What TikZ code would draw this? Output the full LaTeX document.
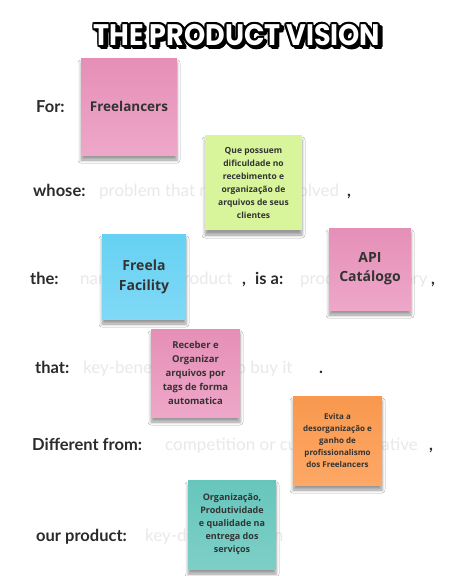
\documentclass[tikz,border=0pt]{standalone}
\usepackage{fontspec}
\setmainfont{Open Sans}
\newfontfamily\handfont{Lato}
\newfontfamily\titlefont{Poppins}
\usetikzlibrary{positioning,shadows.blur}

\definecolor{lbltext}{HTML}{2B2B2B}
\definecolor{hnttext}{HTML}{E9E9E9}
\definecolor{notetext}{HTML}{333333}
\definecolor{pinktop}{HTML}{E58FB7}
\definecolor{pinkbot}{HTML}{EEA7C9}
\definecolor{greennote}{HTML}{D8F59B}
\definecolor{bluetop}{HTML}{66D1F3}
\definecolor{bluebot}{HTML}{80D9F6}
\definecolor{orangetop}{HTML}{F9984E}
\definecolor{orangebot}{HTML}{FDA866}
\definecolor{tealtop}{HTML}{67C6BC}
\definecolor{tealbot}{HTML}{7DCFC6}

\begin{document}
\begin{tikzpicture}[x=1pt,y=-1pt,
  fieldname/.style={anchor=base west,inner sep=0pt,text=lbltext,
    font=\handfont\bfseries\fontsize{16.5}{20}\selectfont},
  hint/.style={anchor=base west,inner sep=0pt,text=hnttext,
    font=\handfont\fontsize{17}{20}\selectfont},
  titletxt/.style={font=\titlefont\bfseries\fontsize{27}{30}\selectfont,inner sep=0pt,yscale=1.1},
  note/.style={align=center,inner sep=2pt,text=notetext,
    blur shadow={shadow xshift=0pt,shadow yshift=-5pt,shadow opacity=40,shadow blur radius=3pt}},
  pink/.style={note,top color=pinktop,bottom color=pinkbot},
  green/.style={note,fill=greennote},
  blue/.style={note,top color=bluetop,bottom color=bluebot},
  orange/.style={note,top color=orangetop,bottom color=orangebot},
  teal/.style={note,top color=tealtop,bottom color=tealbot}]
  \useasboundingbox[fill=white] (0,0) rectangle (448,576);

  % title
  \foreach \a [count=\i] in {0,30,...,330}
    \node[titletxt,text=black] (shade\i) at ([shift={(\a:1.8)}] 239.5,37.5) {THE PRODUCT VISION};
  \foreach \a [count=\i] in {0,30,...,330}
    \node[titletxt,text=black] (rim\i) at ([shift={(\a:1.8)}] 237,35) {THE PRODUCT VISION};
  \node[titletxt,text=white] (title) at (237,35) {THE PRODUCT VISION};

  % lines of the template
  \node[fieldname] (for) at (36,112) {For:};
  \node[fieldname] (whose) at (33,196) {whose:};
  \node[hint] (problem) at (99,196) {problem that needs to be solved};
  \node[fieldname] (c1) at (347,196) {,};
  \node[fieldname] (the) at (30,284) {the:};
  \node[hint] (name) at (80,284) {name of the product};
  \node[fieldname] (c2) at (242,284) {,};
  \node[fieldname] (isa) at (255,284) {is a:};
  \node[hint] (category) at (300,284) {product category};
  \node[fieldname] (c3) at (431,284) {,};
  \node[fieldname] (that) at (35,373) {that:};
  \node[hint] (benefit) at (83,373) {key-benefit, reason to buy it};
  \node[fieldname] (c4) at (319,373) {.};
  \node[fieldname] (diff) at (32,450) {Different from:};
  \node[hint] (competition) at (165,450) {competition or current alternative};
  \node[fieldname] (c5) at (429,450) {,};
  \node[fieldname] (our) at (36,541) {our product:};
  \node[hint] (key) at (145,541) {key-differentiation};

  % sticky notes
  \node[pink,minimum width=96pt,minimum height=97pt,font=\bfseries\fontsize{13.5}{15}\selectfont]
    (freelancers) at (129,106.5) {Freelancers};
  \node[green,minimum width=97pt,minimum height=95pt,font=\bfseries\fontsize{8.5}{13}\selectfont]
    (que) at (253.5,182.5) {Que possuem\\dificuldade no\\recebimento e\\organização de\\arquivos de seus\\clientes};
  \node[blue,minimum width=84pt,minimum height=85pt,font=\bfseries\fontsize{14}{20}\selectfont]
    (freela) at (144,276.5) {Freela\\Facility};
  \node[pink,minimum width=82pt,minimum height=82pt,font=\bfseries\fontsize{14}{19}\selectfont]
    (api) at (370,269) {API\\Catálogo};
  \node[pink,minimum width=89pt,minimum height=88pt,font=\bfseries\fontsize{9.5}{14}\selectfont]
    (receber) at (195.5,373) {Receber e\\Organizar\\arquivos por\\tags de forma\\automatica};
  \node[orange,minimum width=89pt,minimum height=89pt,font=\bfseries\fontsize{8}{12}\selectfont]
    (evita) at (337.5,440.5) {Evita a\\desorganização e\\ganho de\\profissionalismo\\dos Freelancers};
  \node[teal,minimum width=88pt,minimum height=89pt,font=\bfseries\fontsize{9}{13}\selectfont]
    (org) at (232,524.5) {Organização,\\Produtividade\\e qualidade na\\entrega dos\\serviços};
\end{tikzpicture}
\end{document}
